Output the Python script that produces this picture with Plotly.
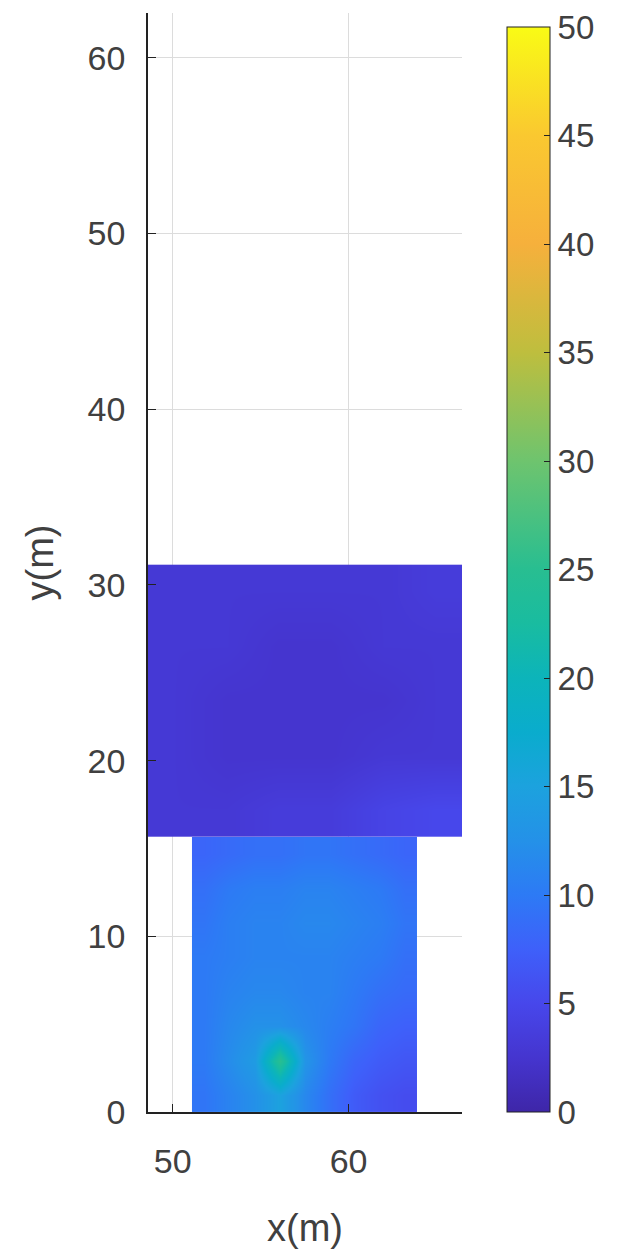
import plotly.graph_objects as go

# ---- data ----
# upper block (x edges 48.6 .. 66.45, y edges 15.65 .. 31.2)
upper_x = [50.1, 53.1, 56.0, 59.0, 62.0, 65.0]
upper_y = [17.2, 20.3, 23.4, 26.5, 29.6]
upper_z = [
    [3.0, 3.0, 3.5, 3.5, 4.5, 5.0],
    [3.0, 2.5, 2.5, 2.5, 3.0, 3.0],
    [3.0, 2.5, 2.5, 2.5, 2.5, 3.0],
    [3.0, 3.0, 2.5, 2.5, 3.0, 3.0],
    [3.0, 3.0, 3.0, 3.0, 3.0, 3.5],
]

# lower block (x edges 51.1 .. 63.9, y edges 0 .. 15.65)
lower_x = [51.8, 53.2, 54.7, 56.1, 57.5, 58.9, 60.3, 61.8, 63.2]
lower_y = [0.98, 2.93, 4.89, 6.85, 8.80, 10.76, 12.70, 14.67]
lower_z = [
    [9.5, 11.0, 12.5, 15.0, 11.5, 9.0, 7.0, 6.0, 5.5],
    [10.0, 12.0, 14.0, 25.0, 13.0, 10.0, 8.0, 7.0, 6.5],
    [10.0, 11.5, 12.5, 12.5, 11.5, 10.5, 9.5, 8.0, 7.5],
    [10.0, 11.0, 11.5, 11.5, 11.0, 11.0, 10.0, 9.0, 8.5],
    [10.0, 10.5, 11.0, 11.0, 11.0, 11.0, 10.5, 10.0, 9.0],
    [9.5, 10.5, 11.0, 11.0, 11.5, 11.5, 11.0, 10.5, 9.5],
    [9.0, 10.0, 10.5, 10.5, 11.0, 11.0, 10.5, 10.0, 9.0],
    [8.0, 8.5, 9.0, 9.0, 9.5, 9.5, 9.0, 8.5, 8.0],
]

x_ticks = [50, 60]
y_ticks = [0, 10, 20, 30, 40, 50, 60]
cbar_ticks = [0, 5, 10, 15, 20, 25, 30, 35, 40, 45, 50]

parula = [
    [0.00, "rgb(62,38,168)"],
    [0.05, "rgb(69,53,207)"],
    [0.10, "rgb(71,71,235)"],
    [0.15, "rgb(62,96,250)"],
    [0.20, "rgb(45,122,245)"],
    [0.25, "rgb(36,145,232)"],
    [0.30, "rgb(28,162,222)"],
    [0.35, "rgb(10,172,205)"],
    [0.40, "rgb(12,180,186)"],
    [0.45, "rgb(25,188,160)"],
    [0.50, "rgb(40,190,145)"],
    [0.60, "rgb(110,196,110)"],
    [0.70, "rgb(190,190,62)"],
    [0.80, "rgb(246,176,60)"],
    [0.90, "rgb(250,200,48)"],
    [1.00, "rgb(249,251,21)"],
]

font_fam = "Liberation Sans, Arial, sans-serif"
tick_col = "#404040"

fig = go.Figure()
fig.add_trace(go.Heatmap(x=upper_x, y=upper_y, z=upper_z, coloraxis="coloraxis",
                         zsmooth="best", hoverinfo="skip"))
fig.add_trace(go.Heatmap(x=lower_x, y=lower_y, z=lower_z, coloraxis="coloraxis",
                         zsmooth="best", hoverinfo="skip"))

fig.update_layout(
    width=618, height=1254,
    margin=dict(l=140, r=164, t=5, b=150),
    plot_bgcolor="white", paper_bgcolor="white",
    font=dict(family=font_fam, size=34, color=tick_col),
    coloraxis=dict(
        colorscale=parula, cmin=0, cmax=50.02,
        colorbar=dict(
            x=1.1433, xanchor="left", xpad=0, ypad=0,
            y=0, yanchor="bottom", len=0.9873, lenmode="fraction",
            thickness=43, outlinewidth=1, outlinecolor="#222",
            tickvals=cbar_ticks, ticks="inside", ticklen=6, tickcolor="#222",
            tickfont=dict(family=font_fam, size=33, color=tick_col),
            tickprefix="   ", ticklabeloverflow="allow",
        ),
    ),
    xaxis=dict(
        range=[48.6, 66.45], tickvals=x_ticks, showgrid=True, gridcolor="#dcdcdc",
        gridwidth=1, zeroline=False, showline=True, linecolor="#222", linewidth=1.5,
        mirror=False, ticks="inside", ticklen=8, tickcolor="#222",
        ticklabelstandoff=18,
        title=dict(text="x(m)", font=dict(size=38, color=tick_col), standoff=36),
    ),
    yaxis=dict(
        range=[0, 62.55], tickvals=y_ticks, showgrid=True, gridcolor="#dcdcdc",
        gridwidth=1, zeroline=False, showline=True, linecolor="#222", linewidth=1.5,
        mirror=False, ticks="inside", ticklen=8, tickcolor="#222",
        ticklabelstandoff=14,
        title=dict(text="y(m)", font=dict(size=38, color=tick_col), standoff=22),
    ),
)

fig.write_html("out.html")
